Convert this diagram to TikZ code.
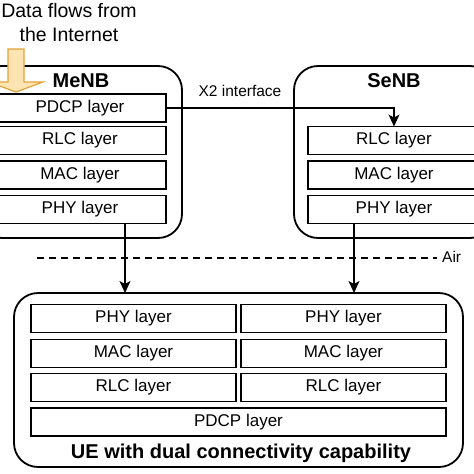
\documentclass[tikz,border=0pt]{standalone}
\usepackage{fontspec}
\setmainfont{Liberation Sans}
\usetikzlibrary{arrows.meta}
\definecolor{arrfill}{RGB}{253,228,178}
\definecolor{arrdraw}{RGB}{224,164,56}
\tikzset{
  bigbox/.style={draw, line width=1.8pt, rounded corners=24pt, inner sep=0pt, outer sep=0pt},
  layerbox/.style={draw, line width=1.6pt, inner sep=0pt, outer sep=0pt, minimum height=28pt,
    font=\fontsize{17}{20}\selectfont},
  title/.style={font=\bfseries\fontsize{20}{24}\selectfont, inner sep=0pt, anchor=base},
  conn/.style={line width=1.3pt, -{Stealth[length=12pt,width=11pt,inset=3pt]}},
  small/.style={font=\fontsize{15.5}{18}\selectfont, inner sep=0pt}
}
\begin{document}
\begin{tikzpicture}[x=1pt,y=-1pt]
\useasboundingbox (0,0) rectangle (474,474);
\clip (0,0) rectangle (474,474);
% big boxes
\node[bigbox, minimum width=204pt, minimum height=172pt] (menb) at (80,152) {};
\node[bigbox, minimum width=200pt, minimum height=172pt] (senb) at (394,152) {};
\node[bigbox, minimum width=449pt, minimum height=174pt] (ue) at (238.5,380) {};
% titles
\node[title] (menbt) at (81,87) {MeNB};
\node[title] (senbt) at (394,87) {SeNB};
\node[title] (uet) at (241,458) {UE with dual connectivity capability};
% MeNB layers
\node[layerbox, minimum width=172pt] (pdcp1) at (80,108) {PDCP layer};
\node[layerbox, minimum width=172pt] (rlc1) at (80,140.5) {RLC layer};
\node[layerbox, minimum width=172pt] (mac1) at (80,175) {MAC layer};
\node[layerbox, minimum width=172pt] (phy1) at (80,209.5) {PHY layer};
% SeNB layers
\node[layerbox, minimum width=172pt] (rlc2) at (394,140.5) {RLC layer};
\node[layerbox, minimum width=172pt] (mac2) at (394,175) {MAC layer};
\node[layerbox, minimum width=172pt] (phy2) at (394,209.5) {PHY layer};
% UE layers
\node[layerbox, minimum width=205pt] (uphyL) at (133.5,318.5) {PHY layer};
\node[layerbox, minimum width=205pt] (uphyR) at (343.5,318.5) {PHY layer};
\node[layerbox, minimum width=205pt] (umacL) at (133.5,353.5) {MAC layer};
\node[layerbox, minimum width=205pt] (umacR) at (343.5,353.5) {MAC layer};
\node[layerbox, minimum width=205pt] (urlcL) at (133.5,387.5) {RLC layer};
\node[layerbox, minimum width=205pt] (urlcR) at (343.5,387.5) {RLC layer};
\node[layerbox, minimum width=415pt] (updcp) at (238.5,422) {PDCP layer};
% X2 interface
\draw[conn] (pdcp1.east) -| (rlc2.north);
\node[small, anchor=base] (x2) at (240,96) {X2 interface};
% air links
\coordinate (a1) at (125,224);
\coordinate (b1) at (354,224);
\draw[conn] (a1) -- (a1 |- ue.north);
\draw[conn] (b1) -- (b1 |- ue.north);
% air line
\coordinate (d1) at (37,258);
\coordinate (d2) at (437,258);
\draw[line width=1.3pt, dash pattern=on 7pt off 5pt] (d1) -- (d2);
\node[small, anchor=base west] (air) at (442,262) {Air};
% data flow text and arrow
\node[font=\fontsize{19.5}{24}\selectfont, align=center, inner sep=0pt] (data) at (69,23) {Data flows from\\the Internet};
\draw[fill=arrfill, draw=arrdraw, line width=1.2pt, line join=miter]
  (8,49) -- (24,49) -- (24,82) -- (43,82) -- (16,92) -- (-11,82) -- (8,82) -- cycle;
\end{tikzpicture}
\end{document}
